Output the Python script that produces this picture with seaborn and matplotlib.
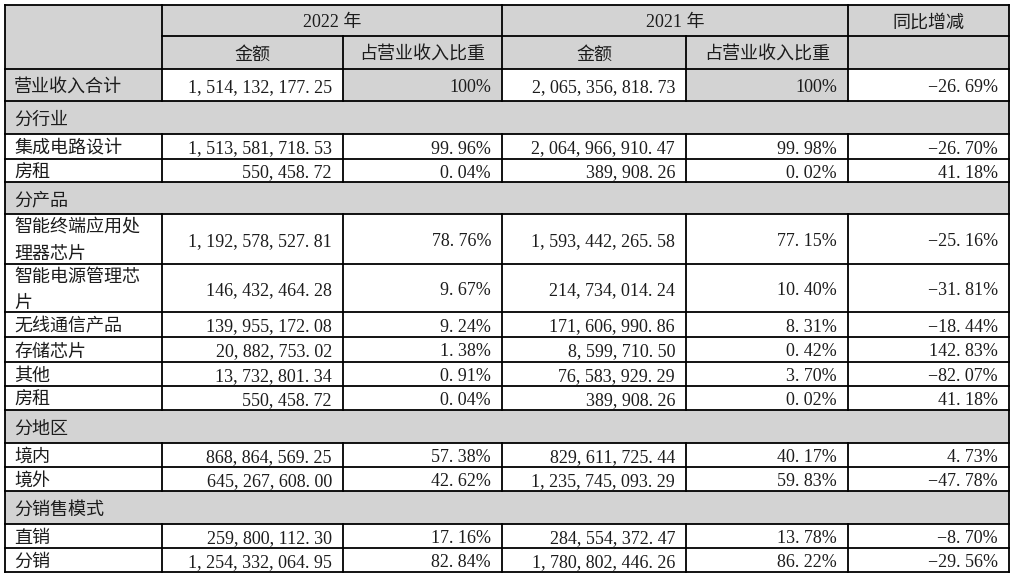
import matplotlib
matplotlib.use('Agg')
import matplotlib.pyplot as plt
from matplotlib.patches import Rectangle
import seaborn as sns

# table content (None = section header row)
labels = ['营业收入合计', '分行业', '集成电路设计', '房租', '分产品',
          '智能终端应用处\n理器芯片', '智能电源管理芯\n片', '无线通信产品', '存储芯片', '其他', '房租',
          '分地区', '境内', '境外', '分销售模式', '直销', '分销']
amount_2022 = [1514132177.25, None, 1513581718.53, 550458.72, None,
               1192578527.81, 146432464.28, 139955172.08, 20882753.02, 13732801.34, 550458.72,
               None, 868864569.25, 645267608.00, None, 259800112.30, 1254332064.95]
ratio_2022 = [100, None, 99.96, 0.04, None,
              78.76, 9.67, 9.24, 1.38, 0.91, 0.04,
              None, 57.38, 42.62, None, 17.16, 82.84]
amount_2021 = [2065356818.73, None, 2064966910.47, 389908.26, None,
               1593442265.58, 214734014.24, 171606990.86, 8599710.50, 76583929.29, 389908.26,
               None, 829611725.44, 1235745093.29, None, 284554372.47, 1780802446.26]
ratio_2021 = [100, None, 99.98, 0.02, None,
              77.15, 10.40, 8.31, 0.42, 3.70, 0.02,
              None, 40.17, 59.83, None, 13.78, 86.22]
yoy = [-26.69, None, -26.70, 41.18, None,
       -25.16, -31.81, -18.44, 142.83, -82.07, 41.18,
       None, 4.73, -47.78, None, -8.70, -29.56]

# layout in pixels
col_x = [5, 162, 343, 502, 686, 848, 1009]
row_y = [5, 36, 69, 101, 134, 159, 182, 214, 264, 312, 337, 362, 386, 410, 443, 467, 491, 524, 548, 572]

grey = '#d3d3d3'
ink = '#1c1c1c'
fam = ['Liberation Serif', 'Noto Sans CJK SC']
fs = 13
pad = 11
dy = 2.5  # nudge text down to sit like the reference

sns.set_theme(style='white')
plt.rcParams['font.family'] = fam


def fmt_amt(v):
    return f'{v:,.2f}'.replace(',', ', ').replace('.', '. ')


def fmt_pct(v):
    if v == 100:
        return '100%'
    s = f'{abs(v):.2f}'.replace('.', '. ') + '%'
    return ('\u2212' if v < 0 else '') + s


fig = plt.figure(figsize=(10.13, 5.79), dpi=100)
ax = fig.add_axes([0, 0, 1, 1])
ax.set_xlim(0, 1013)
ax.set_ylim(579, 0)
ax.axis('off')


def cell(x0, x1, y0, y1, color):
    ax.add_patch(Rectangle((x0, y0), x1 - x0, y1 - y0, facecolor=color, edgecolor='none', zorder=1))


def hline(y, x0, x1):
    ax.plot([x0, x1], [y, y], color='black', lw=1.3, zorder=3, solid_capstyle='projecting')


def vline(x, y0, y1):
    ax.plot([x, x], [y0, y1], color='black', lw=1.3, zorder=3, solid_capstyle='projecting')


def txt(x, y, s, ha):
    ax.text(x, y + dy, s, ha=ha, va='center', fontsize=fs, color=ink, family=fam,
            linespacing=1.75, zorder=4)


# header
cell(col_x[0], col_x[-1], row_y[0], row_y[2], grey)
hline(row_y[0], col_x[0], col_x[-1])
hline(row_y[1], col_x[1], col_x[-1])
for x in [col_x[0], col_x[1], col_x[3], col_x[5], col_x[6]]:
    vline(x, row_y[0], row_y[2])
for x in [col_x[2], col_x[4]]:
    vline(x, row_y[1], row_y[2])
ym = (row_y[0] + row_y[1]) / 2
txt((col_x[1] + col_x[3]) / 2, ym, '2022 年', 'center')
txt((col_x[3] + col_x[5]) / 2, ym, '2021 年', 'center')
txt((col_x[5] + col_x[6]) / 2, ym, '同比增减', 'center')
ym = (row_y[1] + row_y[2]) / 2
for i, h in enumerate(['金额', '占营业收入比重', '金额', '占营业收入比重']):
    txt((col_x[i + 1] + col_x[i + 2]) / 2, ym, h, 'center')

# body rows
for i, lab in enumerate(labels):
    y0, y1 = row_y[i + 2], row_y[i + 3]
    ymid = (y0 + y1) / 2
    hline(y0, col_x[0], col_x[-1])
    vline(col_x[0], y0, y1)
    vline(col_x[-1], y0, y1)
    if amount_2022[i] is None:
        cell(col_x[0], col_x[-1], y0, y1, grey)
        txt(col_x[0] + 9, ymid, lab, 'left')
        continue
    if i == 0:
        cell(col_x[0], col_x[1], y0, y1, grey)
        cell(col_x[2], col_x[3], y0, y1, grey)
        cell(col_x[4], col_x[5], y0, y1, grey)
    for x in col_x[1:-1]:
        vline(x, y0, y1)
    txt(col_x[0] + 9, ymid, lab, 'left')
    vals = [fmt_amt(amount_2022[i]), fmt_pct(ratio_2022[i]),
            fmt_amt(amount_2021[i]), fmt_pct(ratio_2021[i]), fmt_pct(yoy[i])]
    for j, s in enumerate(vals):
        txt(col_x[j + 2] - pad, ymid, s, 'right')
hline(row_y[-1], col_x[0], col_x[-1])

fig.savefig('out.png', dpi=100, facecolor='white')
